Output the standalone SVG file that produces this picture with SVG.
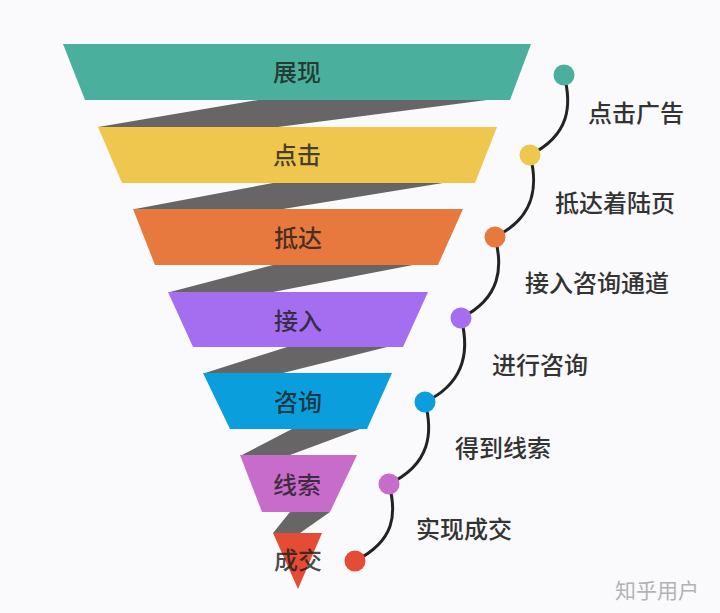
<svg xmlns="http://www.w3.org/2000/svg" width="720" height="613" viewBox="0 0 720 613">
<style>
.t{font-family:"Noto Sans CJK SC","Noto Sans",sans-serif;font-size:24px;font-weight:500}
.in{text-anchor:middle;fill:#1a1a1a;fill-opacity:.8}
.out{fill:#333}
.rib{fill:#676566}
.cur{fill:none;stroke:#232323;stroke-width:3;stroke-linecap:round}
</style>
<rect width="720" height="613" fill="#faf9fb"/>
<g id="ribbons">
<polygon class="rib" points="258,100 487,100 278,127 98,127"/>
<polygon class="rib" points="273,183 443,183 283,209 135,209"/>
<polygon class="rib" points="273,265 413,265 273,292 170,292"/>
<polygon class="rib" points="287,347 387,347 283,373 205,373"/>
<polygon class="rib" points="292,429 360,429 290,455 242,455"/>
<polygon class="rib" points="290,512 330,512 300,533 273,533"/>
</g>
<g id="n1"><polygon points="63,44 531,44 510,100 85,100" fill="#4aaf9c"/><text class="t in" x="297" y="81">展现</text></g>
<g id="n2"><polygon points="98,127 497,127 475,183 122,183" fill="#efc74f"/><text class="t in" x="297" y="164">点击</text></g>
<g id="n3"><polygon points="133,209 463,209 438,265 155,265" fill="#e8793e"/><text class="t in" x="298" y="247">抵达</text></g>
<g id="n4"><polygon points="168,292 428,292 403,347 193,347" fill="#a56ef0"/><text class="t in" x="298" y="330">接入</text></g>
<g id="n5"><polygon points="203,373 392,373 367,429 230,429" fill="#0a9fdc"/><text class="t in" x="298" y="411">咨询</text></g>
<g id="n6"><polygon points="240,455 357,455 330,512 262,512" fill="#c86ccb"/><text class="t in" x="297" y="494">线索</text></g>
<g id="n7"><polygon points="273,533 322,533 298,589" fill="#e44c36"/><text class="t in" x="298" y="569">成交</text></g>
<g id="connectors">
<path class="cur" d="M564,75 C572,105 570,135 530,155"/>
<path class="cur" d="M530,155 C538,185 536,217 495,237"/>
<path class="cur" d="M495,237 C503,267 501,298 461,318"/>
<path class="cur" d="M461,318 C469,348 467,382 425,402"/>
<path class="cur" d="M425,402 C433,432 431,464 389,484"/>
<path class="cur" d="M389,484 C397,514 395,541 355,561"/>
</g>
<g id="d1"><circle cx="564" cy="75" r="10.5" fill="#4aaf9c"/><text class="t out" x="588" y="122">点击广告</text></g>
<g id="d2"><circle cx="530" cy="155" r="10.5" fill="#efc74f"/><text class="t out" x="555" y="212">抵达着陆页</text></g>
<g id="d3"><circle cx="495" cy="237" r="10.5" fill="#e8793e"/><text class="t out" x="525" y="292">接入咨询通道</text></g>
<g id="d4"><circle cx="461" cy="318" r="10.5" fill="#a56ef0"/><text class="t out" x="492" y="374">进行咨询</text></g>
<g id="d5"><circle cx="425" cy="402" r="10.5" fill="#0a9fdc"/><text class="t out" x="455" y="457">得到线索</text></g>
<g id="d6"><circle cx="389" cy="484" r="10.5" fill="#c86ccb"/><text class="t out" x="416" y="538">实现成交</text></g>
<g id="d7"><circle cx="355" cy="561" r="10.5" fill="#e44c36"/></g>
<text class="t" x="615" y="598" style="font-size:21px;font-weight:400;fill:#b3b3b3">知乎用户</text>
</svg>
